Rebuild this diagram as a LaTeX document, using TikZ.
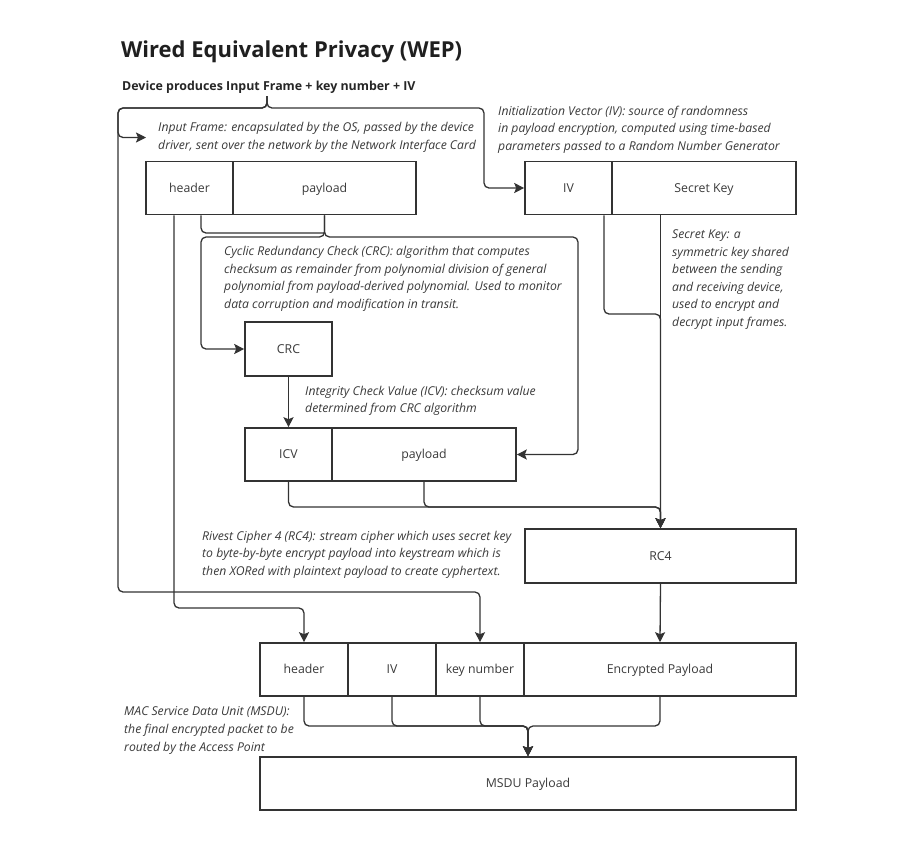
\documentclass[tikz,border=0pt]{standalone}
\usepackage{fontspec}
\setmainfont{Open Sans}
\usetikzlibrary{arrows.meta,calc}
\definecolor{ink}{HTML}{333333}
\definecolor{txt}{HTML}{3A3A3A}
\begin{document}
\begin{tikzpicture}[x=1pt,y=-1pt,
  box/.style={draw=ink,line width=1.6pt,minimum height=53pt,inner sep=0pt,
    text height=9pt,text depth=0.5pt,
    font=\fontsize{12.3}{14}\selectfont,text=txt},
  note/.style={anchor=west,align=left,inner sep=0pt,text=txt,
    font=\fontsize{12.2}{17.6}\selectfont\itshape},
  conn/.style={draw=ink,line width=1.3pt,rounded corners=5pt},
  arr/.style={conn,-{Stealth[length=10pt,width=10pt,inset=2pt]}}]
\useasboundingbox[fill=white] (0,0) rectangle (903,847);

% titles
\node[anchor=west,inner sep=0pt,text=black!88,font=\fontsize{22}{26}\selectfont\bfseries] (title) at (121,52) {Wired Equivalent Privacy (WEP)};
\node[anchor=west,inner sep=0pt,text=black!85,font=\fontsize{12.4}{14}\selectfont\bfseries] (sub) at (122,87) {Device produces Input Frame + key number + IV};
\coordinate (tick) at (267,96);

% comments
\node[note,inner xsep=12pt] (cIF) at (146,137.5) {Input Frame: encapsulated by the OS, passed by the device\\driver, sent over the network by the Network Interface Card};
\node[note] (cIV) at (498,129.5) {Initialization Vector (IV): source of randomness\\in payload encryption, computed using time-based\\parameters passed to a Random Number Generator};
\node[note] (cCRC) at (224,279) {Cyclic Redundancy Check (CRC): algorithm that computes\\checksum as remainder from polynomial division of general\\polynomial from payload-derived polynomial. Used to monitor\\data corruption and modification in transit.};
\node[note] (cSK) at (672,279.5) {Secret Key: a\\symmetric key shared\\between the sending\\and receiving device,\\used to encrypt and\\decrypt input frames.};
\node[note] (cICV) at (305,401) {Integrity Check Value (ICV): checksum value\\determined from CRC algorithm};
\node[note] (cRC4) at (202,554.5) {Rivest Cipher 4 (RC4): stream cipher which uses secret key\\to byte-by-byte encrypt payload into keystream which is\\then XORed with plaintext payload to create cyphertext.};
\node[note] (cMSDU) at (124,730.5) {MAC Service Data Unit (MSDU):\\the final encrypted packet to be\\routed by the Access Point};

% boxes
\node[box,minimum width=87pt] (hdr) at (189.5,188) {header};
\node[box,minimum width=183pt] (pay) at (324.5,188) {payload};
\node[box,minimum width=87pt] (iv) at (568.5,188) {IV};
\node[box,minimum width=184pt] (sk) at (704,188) {Secret Key};
\node[box,minimum width=87pt,minimum height=54pt] (crc) at (288.5,349) {CRC};
\node[box,minimum width=87pt] (icv) at (288.5,454.5) {ICV};
\node[box,minimum width=184pt] (pay2) at (424,454.5) {payload};
\node[box,minimum width=271pt,minimum height=54pt] (rc4) at (660.5,556) {RC4};
\node[box,minimum width=88pt] (hdr2) at (304,669.5) {header};
\node[box,minimum width=88pt] (iv2) at (392,669.5) {IV};
\node[box,minimum width=88pt] (key) at (480,669.5) {key number};
\node[box,minimum width=272pt] (enc) at (660,669.5) {Encrypted Payload};
\node[box,minimum width=536pt] (msdu) at (528,783.5) {MSDU Payload};

% connectors from the device line
\draw[arr] (tick) |- (118,108) |- (cIF.west);
\draw[arr] (tick) |- (118,108) -- (118,592) -| (key.north);
\draw[arr] (tick) |- (484,108) |- (iv.west);

% header to bottom header
\draw[arr] ([xshift=-15.5pt]hdr.south) |- (hdr2.north |- 0,608) -- (hdr2.north);
% header/payload to CRC and ICV payload
\draw[conn] ([xshift=11.5pt]hdr.south) |- (pay.south |- 0,233);
\draw[arr] (pay.south) |- (201,237) |- (crc.west);
\draw[arr] (pay.south) |- (578,237) |- (pay2.east);
\draw[arr] (crc.south) -- (icv.north);

% into RC4
\draw[arr] ([xshift=35.5pt]iv.south) |- (rc4.north |- 0,314) -- (rc4.north);
\draw[arr] (sk.south -| rc4.north) -- (rc4.north);
\draw[arr] (icv.south) |- (rc4.north |- 0,507) -- (rc4.north);
\draw[arr] (pay2.south) |- (rc4.north |- 0,507) -- (rc4.north);
\draw[arr] (rc4.south) -- (enc.north);

% into MSDU
\draw[arr] (hdr2.south) |- (msdu.north |- 0,726) -- (msdu.north);
\draw[arr] (iv2.south) |- (msdu.north |- 0,726) -- (msdu.north);
\draw[arr] (key.south) |- (msdu.north |- 0,726) -- (msdu.north);
\draw[arr] (enc.south) |- (msdu.north |- 0,726) -- (msdu.north);
\end{tikzpicture}
\end{document}
